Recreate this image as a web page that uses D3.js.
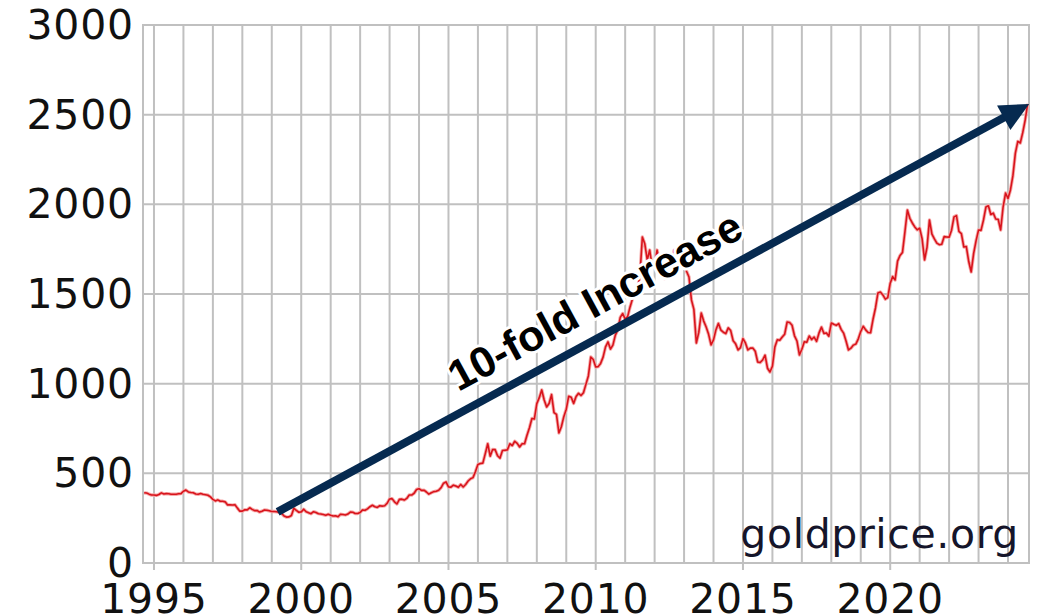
<!DOCTYPE html>
<html>
<head>
<meta charset="utf-8">
<script src="https://cdn.jsdelivr.net/npm/d3@7"></script>
<style>
  body { margin: 0; background: #fff; }
  svg { display: block; }
  .tickLabel { font-family: "DejaVu Sans", Verdana, sans-serif; font-size: 41px; letter-spacing: 0.8px; fill: #111; }
  .watermark { font-family: "DejaVu Sans", Verdana, sans-serif; font-size: 41px; letter-spacing: 0.6px; fill: #15152a; }
  .note { font-family: "Liberation Sans", Arial, sans-serif; font-weight: bold; font-size: 43px; fill: #000; }
</style>
</head>
<body>
<div id="chart"></div>
<script>
// gold price, USD/oz, one value a month starting Sep 1994
const firstMonth = [1994, 9];
const monthlyPrice = [
  392, 390, 384, 379,                                              // 1994
  379, 377, 382, 391, 385, 387, 386, 383, 383, 383, 386, 387,      // 1995
  400, 407, 396, 393, 392, 385, 383, 387, 383, 381, 378, 369,      // 1996
  355, 346, 352, 344, 344, 341, 324, 324, 323, 325, 306, 289,      // 1997
  289, 297, 296, 308, 299, 292, 293, 284, 289, 296, 294, 291,      // 1998
  287, 287, 286, 282, 277, 262, 256, 257, 265, 305, 293, 283,      // 1999
  285, 300, 286, 280, 275, 286, 282, 275, 273, 270, 266, 272,      // 2000
  266, 262, 263, 258, 272, 270, 268, 273, 284, 283, 276, 276,      // 2001
  282, 296, 294, 302, 314, 322, 314, 310, 319, 317, 319, 333,      // 2002
  357, 359, 341, 329, 355, 356, 351, 360, 379, 379, 389, 410,      // 2003
  414, 405, 406, 396, 384, 392, 398, 400, 406, 420, 445, 452,      // 2004
  424, 423, 434, 429, 422, 438, 424, 438, 457, 470, 476, 510,      // 2005
  549, 555, 557, 610, 665, 596, 633, 632, 598, 585, 627, 629,      // 2006
  631, 665, 655, 679, 667, 647, 665, 665, 712, 754, 806, 803,      // 2007
  889, 922, 965, 909, 870, 889, 939, 839, 829, 725, 760, 816,      // 2008
  858, 930, 924, 890, 928, 946, 934, 949, 996, 1043, 1149, 1135,   // 2009
  1093, 1095, 1113, 1148, 1205, 1233, 1193, 1215, 1271, 1300, 1370, 1391, // 2010
  1360, 1374, 1428, 1474, 1512, 1529, 1600, 1818, 1780, 1690, 1745, 1652, // 2011
  1656, 1745, 1675, 1649, 1586, 1596, 1594, 1626, 1744, 1750, 1722, 1685, // 2012
  1671, 1627, 1595, 1467, 1414, 1227, 1286, 1394, 1349, 1316, 1275, 1216, // 2013
  1244, 1301, 1336, 1299, 1287, 1279, 1311, 1296, 1239, 1222, 1188, 1201, // 2014
  1251, 1227, 1188, 1198, 1199, 1181, 1121, 1118, 1132, 1159, 1086, 1065, // 2015
  1097, 1205, 1245, 1242, 1260, 1276, 1344, 1341, 1326, 1267, 1238, 1160, // 2016
  1192, 1234, 1231, 1266, 1246, 1260, 1236, 1283, 1315, 1280, 1283, 1265, // 2017
  1338, 1331, 1325, 1335, 1303, 1282, 1238, 1188, 1198, 1215, 1221, 1250, // 2018
  1291, 1320, 1300, 1285, 1284, 1359, 1422, 1506, 1511, 1495, 1471, 1480, // 2019
  1560, 1597, 1578, 1683, 1715, 1732, 1847, 1968, 1922, 1896, 1874, 1858, // 2020
  1867, 1808, 1690, 1760, 1913, 1834, 1807, 1784, 1775, 1777, 1820, 1818, // 2021
  1817, 1856, 1930, 1937, 1849, 1837, 1762, 1765, 1681, 1623, 1726, 1798, // 2022
  1857, 1855, 1912, 1985, 1992, 1943, 1951, 1918, 1916, 1857, 1985, 2063, // 2023
  2033, 2080, 2160, 2286, 2351, 2342, 2400, 2470, 2560             // 2024
];

const gridYears = d3.range(1995, 2025);
const labelYears = [1995, 2000, 2005, 2010, 2015, 2020];
const yTicks = [0, 500, 1000, 1500, 2000, 2500, 3000];

// arrow from the 1999 low to the 2024 high
const arrowFrom = [1999.2, 285];
const arrowTo = [2024.72, 2560];
const arrowLabel = "10-fold Increase";
const sourceLabel = "goldprice.org";

const W = 1040, H = 616;
const plot = { left: 143, right: 1029, top: 25, bottom: 563 };

const svg = d3.select("#chart").append("svg")
  .attr("width", W)
  .attr("height", H);

const x = d3.scaleLinear()
  .domain([1994.627, 2024.713])
  .range([plot.left, plot.right]);

const y = d3.scaleLinear()
  .domain([0, 3000])
  .range([plot.bottom, plot.top]);

const gridColor = "#c0c0c0";

// vertical grid, one a year
svg.append("g").selectAll("line")
  .data(gridYears)
  .join("line")
  .attr("x1", d => x(d)).attr("x2", d => x(d))
  .attr("y1", plot.top)
  .attr("y2", d => labelYears.includes(d) ? plot.bottom + 7 : plot.bottom)
  .attr("stroke", gridColor)
  .attr("stroke-width", 2);

// horizontal grid
svg.append("g").selectAll("line")
  .data(yTicks)
  .join("line")
  .attr("x1", plot.left).attr("x2", plot.right)
  .attr("y1", d => y(d)).attr("y2", d => y(d))
  .attr("stroke", gridColor)
  .attr("stroke-width", 2);

// frame
svg.append("rect")
  .attr("x", plot.left).attr("y", plot.top)
  .attr("width", plot.right - plot.left)
  .attr("height", plot.bottom - plot.top)
  .attr("fill", "none")
  .attr("stroke", gridColor)
  .attr("stroke-width", 2);

svg.append("g").selectAll("text")
  .data(yTicks)
  .join("text")
  .attr("class", "tickLabel")
  .attr("x", 134)
  .attr("y", d => y(d) + 14)
  .attr("text-anchor", "end")
  .text(d => d);

svg.append("g").selectAll("text")
  .data(labelYears)
  .join("text")
  .attr("class", "tickLabel")
  .attr("x", d => x(d))
  .attr("y", 613)
  .attr("text-anchor", "middle")
  .text(d => d);

svg.append("text")
  .attr("class", "watermark")
  .attr("x", 1019)
  .attr("y", 548)
  .attr("text-anchor", "end")
  .text(sourceLabel);

// price line
const series = monthlyPrice.map((v, i) => ({
  t: firstMonth[0] + (firstMonth[1] - 1 + i) / 12,
  v: v
}));

const line = d3.line()
  .x(d => x(d.t))
  .y(d => y(d.v));

svg.append("path")
  .datum(series)
  .attr("d", line)
  .attr("fill", "none")
  .attr("stroke", "#f6a8a8")
  .attr("stroke-width", 3.4)
  .attr("stroke-linejoin", "round");

svg.append("path")
  .datum(series)
  .attr("d", line)
  .attr("fill", "none")
  .attr("stroke", "#d8141c")
  .attr("stroke-width", 1.6)
  .attr("stroke-linejoin", "round");

// arrow
const navy = "#062a50";
const ax1 = x(arrowFrom[0]), ay1 = y(arrowFrom[1]);
const ax2 = x(arrowTo[0]), ay2 = y(arrowTo[1]);
const ang = Math.atan2(ay2 - ay1, ax2 - ax1);
const headLen = 29, headHalf = 14;

svg.append("line")
  .attr("x1", ax1).attr("y1", ay1)
  .attr("x2", ax2 - Math.cos(ang) * (headLen - 4))
  .attr("y2", ay2 - Math.sin(ang) * (headLen - 4))
  .attr("stroke", navy)
  .attr("stroke-width", 8);

const bx = ax2 - Math.cos(ang) * headLen, by = ay2 - Math.sin(ang) * headLen;
svg.append("path")
  .attr("d", `M${ax2},${ay2}L${bx - Math.sin(ang) * headHalf},${by + Math.cos(ang) * headHalf}`
    + `L${bx + Math.sin(ang) * headHalf},${by - Math.cos(ang) * headHalf}Z`)
  .attr("fill", navy);

// label along the arrow
const deg = ang * 180 / Math.PI;
const mx = 602, my = 314;
const halo = function(text, w) {
  text.select(function() { return this.parentNode.insertBefore(this.cloneNode(true), this); })
    .style("fill", "#fff")
    .style("stroke", "#fff")
    .style("stroke-width", w)
    .style("stroke-linejoin", "round");
};

svg.append("text")
  .attr("class", "note")
  .attr("text-anchor", "middle")
  .attr("transform", `translate(${mx},${my}) rotate(${deg})`)
  .text(arrowLabel)
  .call(halo, 6);
</script>
</body>
</html>
